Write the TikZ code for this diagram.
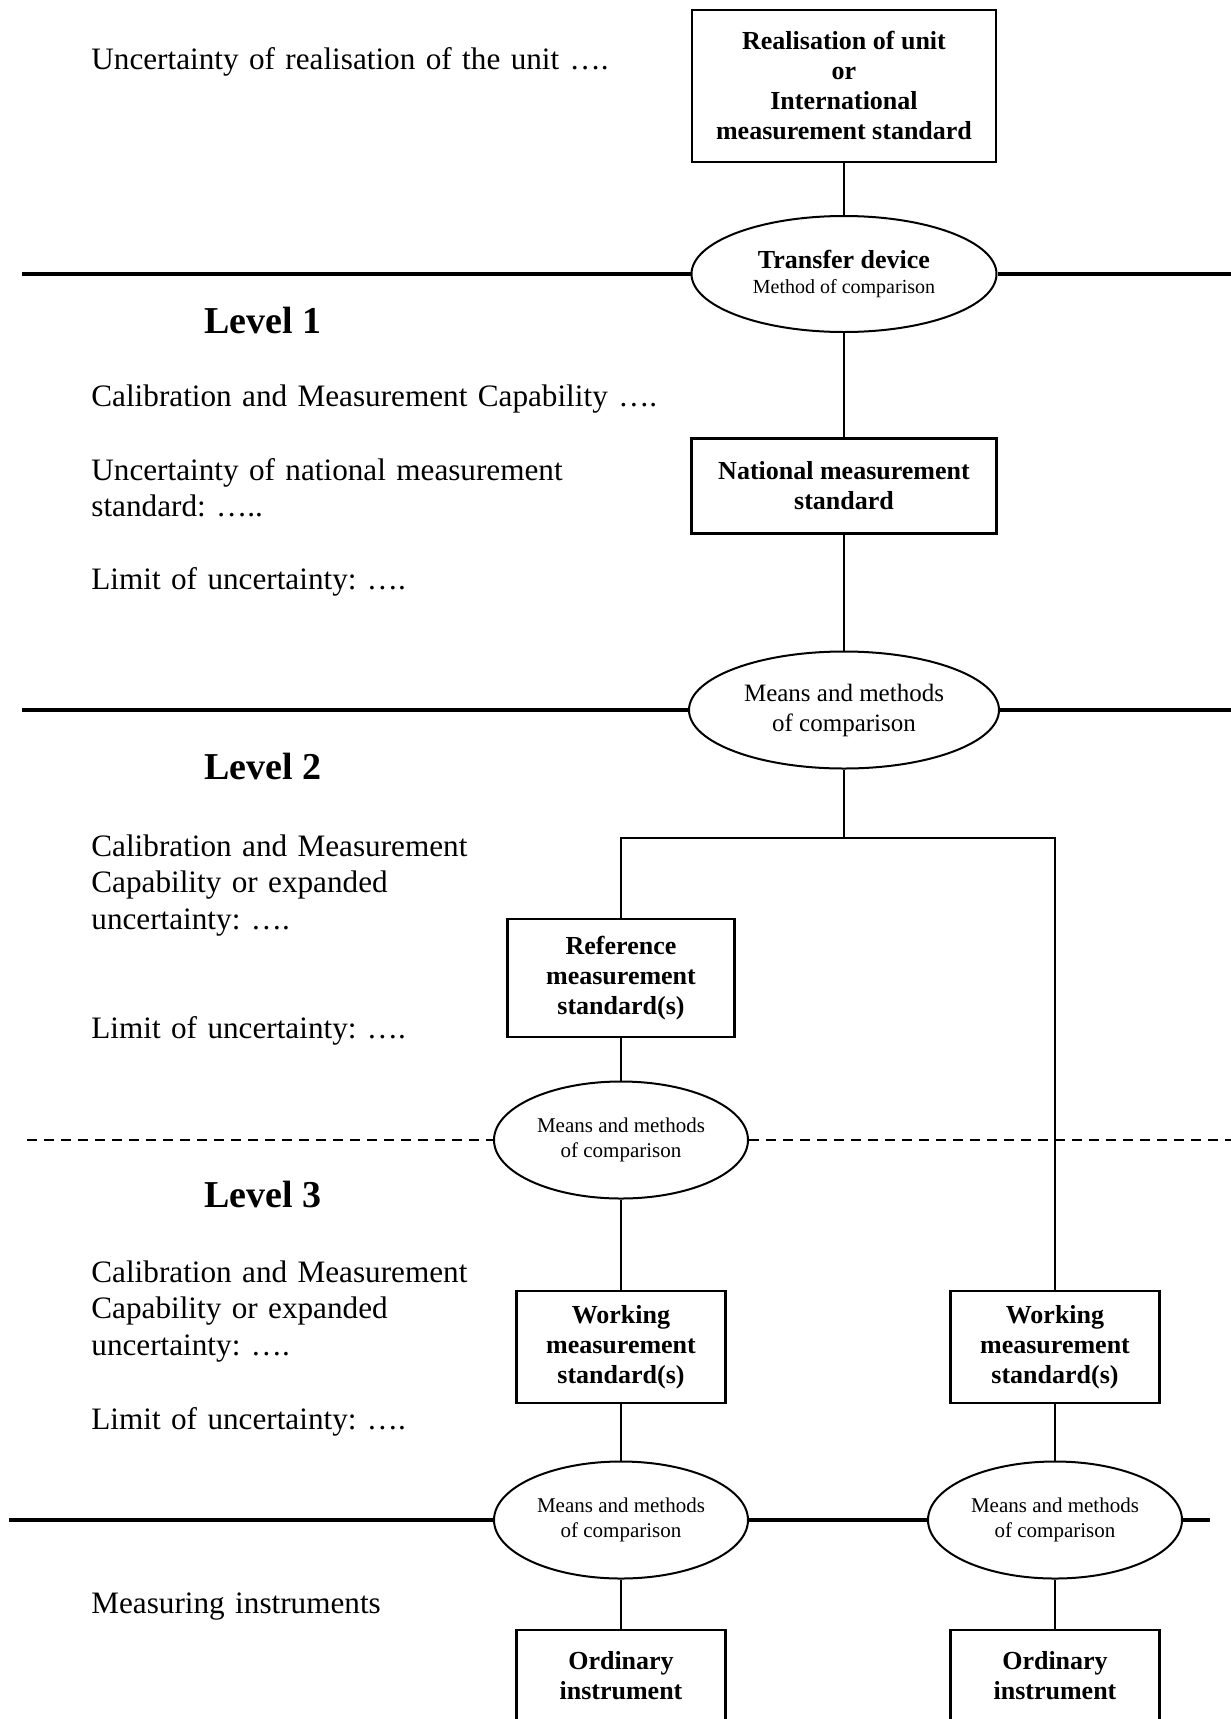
\documentclass[tikz,border=0pt]{standalone}
\usepackage{fontspec}
\setmainfont{Liberation Serif}
\usetikzlibrary{shapes.geometric}
\frenchspacing

\begin{document}
\begin{tikzpicture}[x=0.5pt,y=-0.5pt]

\tikzset{stdbox/.style = {shape=rectangle,draw,line width=1.3pt,align=center,inner sep=0pt,font=\bfseries\fontsize{13}{15}\selectfont}}
\tikzset{means/.style = {shape=ellipse,draw,line width=1pt,align=center,inner sep=0pt,minimum width=155pt,minimum height=58.5pt,font=\fontsize{12.5}{15}\selectfont}}
\tikzset{smallmeans/.style = {means,minimum width=127pt,font=\fontsize{10.5}{12.3}\selectfont}}
\tikzset{note/.style = {anchor=base west,inner sep=0pt,text width=330pt,align=left,font=\fontsize{15.6}{18.4}\selectfont}}
\tikzset{levelname/.style = {anchor=base west,inner sep=0pt,font=\bfseries\fontsize{19}{23}\selectfont}}
\tikzset{edge/.style = {line width=1pt}}
\tikzset{border/.style = {line width=1.6pt}}

\useasboundingbox (0,0) rectangle (1231,1719);

% standards and comparisons
\node[stdbox,minimum width=152pt,minimum height=76pt] (unit) at (844,86) {Realisation of unit\\or\\International\\measurement standard};
\node[means,minimum width=152.5pt,minimum height=58pt,font=\fontsize{10}{12.5}\selectfont] (transfer) at (844,274) {{\bfseries\fontsize{13}{15}\selectfont Transfer device}\\Method of comparison};
\node[stdbox,minimum width=152.5pt,minimum height=47.5pt] (national) at (844,486) {National measurement\\standard};
\node[means] (mm1) at (844,710) {Means and methods\\of comparison};
\coordinate (split) at (844,838);
\node[stdbox,minimum width=113.5pt,minimum height=59pt] (ref) at (621,978) {Reference\\measurement\\standard(s)};
\node[smallmeans] (mm2) at (621,1140) {Means and methods\\of comparison};
\node[stdbox,minimum width=104.5pt,minimum height=56pt] (work1) at (621,1347) {Working\\measurement\\standard(s)};
\node[stdbox,minimum width=104.5pt,minimum height=56pt] (work2) at (1055,1347) {Working\\measurement\\standard(s)};
\node[smallmeans] (mm3) at (621,1520) {Means and methods\\of comparison};
\node[smallmeans] (mm4) at (1055,1520) {Means and methods\\of comparison};
\node[stdbox,minimum width=104.5pt,minimum height=46pt] (ord1) at (621,1676) {Ordinary\\instrument};
\node[stdbox,minimum width=104.5pt,minimum height=46pt] (ord2) at (1055,1676) {Ordinary\\instrument};

\draw[edge] (unit) -- (transfer);
\draw[edge] (transfer) -- (national);
\draw[edge] (national) -- (mm1);
\draw[edge] (mm1) -- (split);
\draw[edge] (ref.north) |- (split) -| (work2.north);
\draw[edge] (ref) -- (mm2);
\draw[edge] (mm2) -- (work1);
\draw[edge] (work1) -- (mm3);
\draw[edge] (mm3) -- (ord1);
\draw[edge] (work2) -- (mm4);
\draw[edge] (mm4) -- (ord2);

% level borders
\coordinate (b1w) at (22,274);
\coordinate (b1e) at (1231,274);
\coordinate (b2w) at (22,710);
\coordinate (b2e) at (1231,710);
\coordinate (b3w) at (27,1140);
\coordinate (b3e) at (1231,1140);
\coordinate (b4w) at (9,1520);
\coordinate (b4e) at (1210,1520);
\draw[border] (b1w) -- (transfer.west);
\draw[border] (transfer.east) -- (b1e);
\draw[border] (b2w) -- (mm1.west);
\draw[border] (mm1.east) -- (b2e);
\draw[border,line width=1.4pt,dash pattern=on 5pt off 3.5pt] (b3w) -- (mm2.west);
\draw[border,line width=1.4pt,dash pattern=on 5pt off 3.5pt] (mm2.east) -- (b3e);
\draw[border] (b4w) -- (mm3.west);
\draw[border] (mm3.east) -- (mm4.west);
\draw[border] (mm4.east) -- (b4e);

% texts on the left
\node[note] (n0) at (91,69) {Uncertainty of realisation of the unit ….};
\node[levelname] (lv1) at (204,333) {Level 1};
\node[note] (n1a) at (91,406) {Calibration and Measurement Capability ….};
\node[note] (n1b) at (91,480) {Uncertainty of national measurement\\standard: …..};
\node[note] (n1c) at (91,589) {Limit of uncertainty: ….};
\node[levelname] (lv2) at (204,779) {Level 2};
\node[note] (n2a) at (91,856) {Calibration and Measurement\\Capability or expanded\\uncertainty: ….};
\node[note] (n2b) at (91,1038) {Limit of uncertainty: ….};
\node[levelname] (lv3) at (204,1207) {Level 3};
\node[note] (n3a) at (91,1282) {Calibration and Measurement\\Capability or expanded\\uncertainty: ….};
\node[note] (n3b) at (91,1429) {Limit of uncertainty: ….};
\node[note] (n4) at (91,1613) {Measuring instruments};

\end{tikzpicture}
\end{document}
